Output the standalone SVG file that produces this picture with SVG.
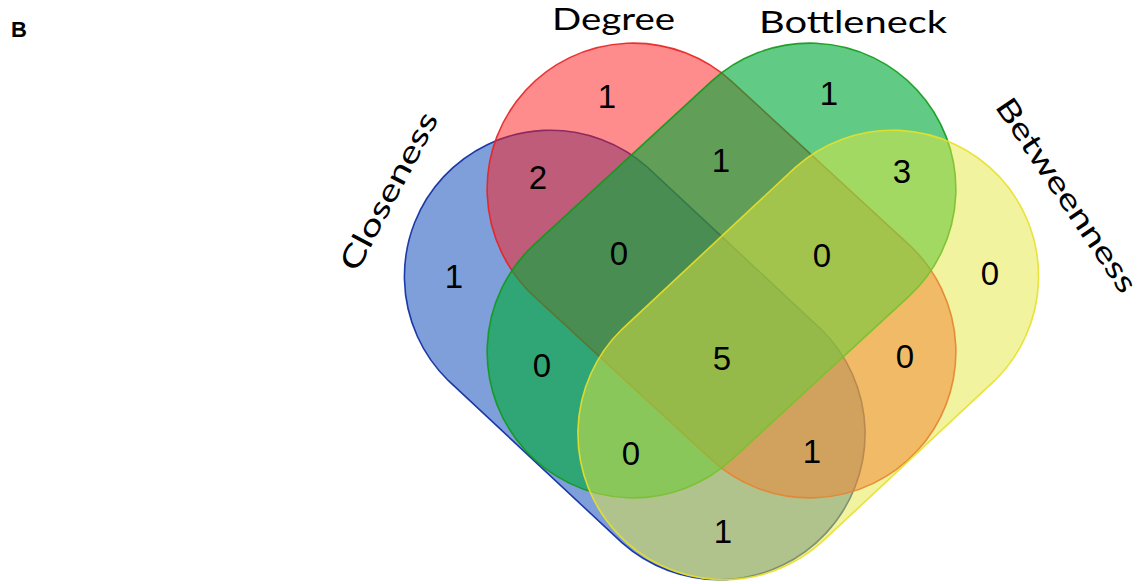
<svg xmlns="http://www.w3.org/2000/svg" width="1144" height="584" viewBox="0 0 1144 584">
<style>
.set{stroke-width:1.6;stroke-opacity:0.9}
.num{font-family:"Liberation Sans",Arial,sans-serif;font-size:33px;fill:#000;text-anchor:middle}
.lab{font-family:Lato,"Open Sans",sans-serif;font-size:30px;fill:#000;text-anchor:middle}
</style>
<rect width="1144" height="584" fill="#ffffff"/>
<text x="11" y="37" font-family="Liberation Sans,Arial,sans-serif" font-weight="bold" font-size="22">B</text>
<g id="closeness">
<path class="set" d="M 647.6,167.3 L 821.1,329.3 A 146 146 0 0 1 621.9,542.7 L 448.4,380.7 A 146 146 0 0 1 647.6,167.3 Z" fill="#003fb8" fill-opacity="0.5" stroke="#0a2aa0"/>
</g>
<g id="degree">
<path class="set" d="M 731.9,81.6 L 908.9,244.6 A 146 146 0 0 1 711.1,459.4 L 534.1,296.4 A 146 146 0 0 1 731.9,81.6 Z" fill="#ff1a1a" fill-opacity="0.5" stroke="#e82020"/>
</g>
<g id="bottleneck">
<path class="set" d="M 711.1,81.6 L 534.1,244.6 A 146 146 0 0 0 731.9,459.4 L 908.9,296.4 A 146 146 0 0 0 711.1,81.6 Z" fill="#00ab3a" fill-opacity="0.62" stroke="#109a18"/>
</g>
<g id="betweenness">
<path class="set" d="M 795.4,167.3 L 621.9,329.3 A 146 146 0 0 0 821.1,542.7 L 994.6,380.7 A 146 146 0 0 0 795.4,167.3 Z" fill="#e3e73f" fill-opacity="0.5" stroke="#e8e028"/>
</g>
<g id="labels">
<text class="lab" x="613.5" y="30" textLength="123" lengthAdjust="spacingAndGlyphs">Degree</text>
<text class="lab" x="853" y="33" textLength="188" lengthAdjust="spacingAndGlyphs">Bottleneck</text>
<text class="lab" transform="translate(398,196) rotate(-62)" textLength="175" lengthAdjust="spacingAndGlyphs">Closeness</text>
<text class="lab" transform="translate(1058,201) rotate(56)" textLength="228" lengthAdjust="spacingAndGlyphs">Betweenness</text>
</g>
<g id="counts">
<text class="num" x="607" y="108">1</text>
<text class="num" x="538" y="189">2</text>
<text class="num" x="721" y="172">1</text>
<text class="num" x="454" y="288">1</text>
<text class="num" x="619" y="265">0</text>
<text class="num" x="829" y="105">1</text>
<text class="num" x="902" y="183">3</text>
<text class="num" x="822" y="267">0</text>
<text class="num" x="990" y="285">0</text>
<text class="num" x="542" y="377">0</text>
<text class="num" x="722" y="370">5</text>
<text class="num" x="631" y="465">0</text>
<text class="num" x="723" y="543">1</text>
<text class="num" x="905" y="368">0</text>
<text class="num" x="812" y="463">1</text>
</g>
</svg>
